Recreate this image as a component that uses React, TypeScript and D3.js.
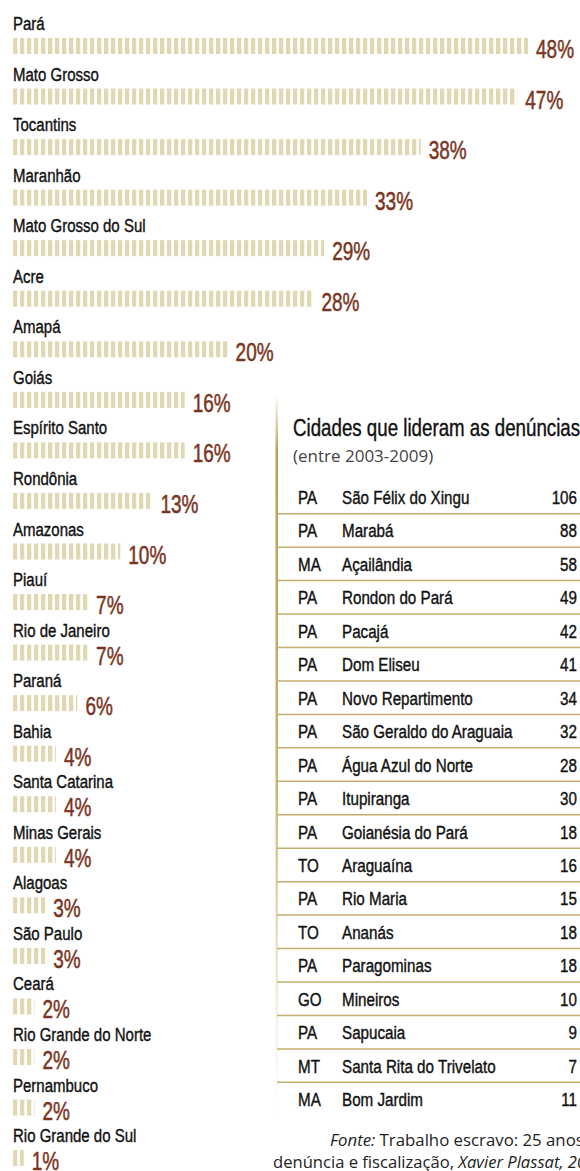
import React from "react";
import * as d3 from "d3";

const states = ["Pará","Mato Grosso","Tocantins","Maranhão","Mato Grosso do Sul","Acre","Amapá","Goiás","Espírito Santo","Rondônia","Amazonas","Piauí","Rio de Janeiro","Paraná","Bahia","Santa Catarina","Minas Gerais","Alagoas","São Paulo","Ceará","Rio Grande do Norte","Pernambuco","Rio Grande do Sul"];
const pct = [48,47,38,33,29,28,20,16,16,13,10,7,7,6,4,4,4,3,3,2,2,2,1];

const cityUF = ["PA","PA","MA","PA","PA","PA","PA","PA","PA","PA","PA","TO","PA","TO","PA","GO","PA","MT","MA"];
const cities = ["São Félix do Xingu","Marabá","Açailândia","Rondon do Pará","Pacajá","Dom Eliseu","Novo Repartimento","São Geraldo do Araguaia","Água Azul do Norte","Itupiranga","Goianésia do Pará","Araguaína","Rio Maria","Ananás","Paragominas","Mineiros","Sapucaia","Santa Rita do Trivelato","Bom Jardim"];
const counts = [106,88,58,49,42,41,34,32,28,30,18,16,15,18,18,10,9,7,11];

const W = 580, H = 1171;
const SANS = "'Liberation Sans', Arial, sans-serif";
const BAR = "#e2d7b3";
const RED = "#7a3522";
const GOLD = "#c6ad6c";

function CT(props: { x: number; y: number; sx: number; size: number; fill: string; anchor?: string; sw?: number; children: React.ReactNode }) {
  const { x, y, sx, size, fill, anchor, sw, children } = props;
  return (
    <text
      transform={`translate(${x},${y}) scale(${sx},1)`}
      textAnchor={anchor || "start"}
      fontFamily={SANS}
      fontSize={size}
      fill={fill}
      stroke={fill}
      strokeWidth={sw ?? 0.4}
    >
      {children}
    </text>
  );
}

export default function App() {
  const x = d3.scaleLinear().domain([0, 48]).range([0, 515]);
  const y = d3.scaleBand<string>().domain(states).range([10, 10 + states.length * 50.55]).paddingInner(0);
  const barX = 13;

  const ty = d3.scaleBand<string>().domain(cities).range([487, 487 + cities.length * 33.45]).paddingInner(0);

  return (
    <svg width={W} height={H} style={{ position: "absolute", left: 0, top: 0, background: "#fff" }}>
      <defs>
        <pattern id="stripes" patternUnits="userSpaceOnUse" x={barX} y={0} width={7} height={20}>
          <rect x={0} y={0} width={4.3} height={20} fill={BAR} />
        </pattern>
        <linearGradient id="vline" x1="0" y1="0" x2="0" y2="1">
          <stop offset="0" stopColor="#b89a45" stopOpacity={0} />
          <stop offset="0.08" stopColor="#b89a45" stopOpacity={0.95} />
          <stop offset="0.55" stopColor="#c3a95c" stopOpacity={0.85} />
          <stop offset="1" stopColor="#e0d3a8" stopOpacity={0} />
        </linearGradient>
      </defs>

      {states.map((s, i) => {
        const top = y(s)!;
        const base = top + 20;
        const w = x(pct[i]);
        return (
          <g key={s}>
            <CT x={barX} y={base} sx={0.79} size={19} fill="#111">{s}</CT>
            <rect x={barX} y={base + 8} width={w} height={16} fill="url(#stripes)" />
            <CT x={barX + w + 8} y={base + 28} sx={0.76} size={25} fill={RED} sw={0.5}>{pct[i]}%</CT>
          </g>
        );
      })}

      {/* table */}
      <rect x={275.5} y={395} width={2.5} height={720} fill="url(#vline)" />
      <CT x={293} y={436} sx={0.78} size={24} fill="#111">Cidades que lideram as denúncias</CT>
      <text x={293} y={462} fontFamily="'Open Sans', sans-serif" fontSize={17} fill="#444">(entre 2003-2009)</text>
      {cities.map((c, i) => {
        const top = ty(c)!;
        const base = top + 17;
        return (
          <g key={c}>
            <CT x={298} y={base} sx={0.8} size={19} fill="#111">{cityUF[i]}</CT>
            <CT x={342} y={base} sx={0.8} size={19} fill="#111">{c}</CT>
            <CT x={577} y={base} sx={0.8} size={19} fill="#111" anchor="end">{counts[i]}</CT>
            {i < cities.length - 1 && (
              <line x1={277} x2={W} y1={base + 9.7} y2={base + 9.7} stroke={GOLD} strokeWidth={1.5} />
            )}
          </g>
        );
      })}

      <text x={330} y={1146} fontFamily="'Open Sans', sans-serif" fontSize={16.8} fill="#222">
        <tspan fontStyle="italic">Fonte:</tspan> Trabalho escravo: 25 anos de
      </text>
      <text x={273} y={1168} fontFamily="'Open Sans', sans-serif" fontSize={16.6} fill="#222">
        denúncia e fiscalização, <tspan fontStyle="italic">Xavier Plassat, 2011</tspan>
      </text>
    </svg>
  );
}
